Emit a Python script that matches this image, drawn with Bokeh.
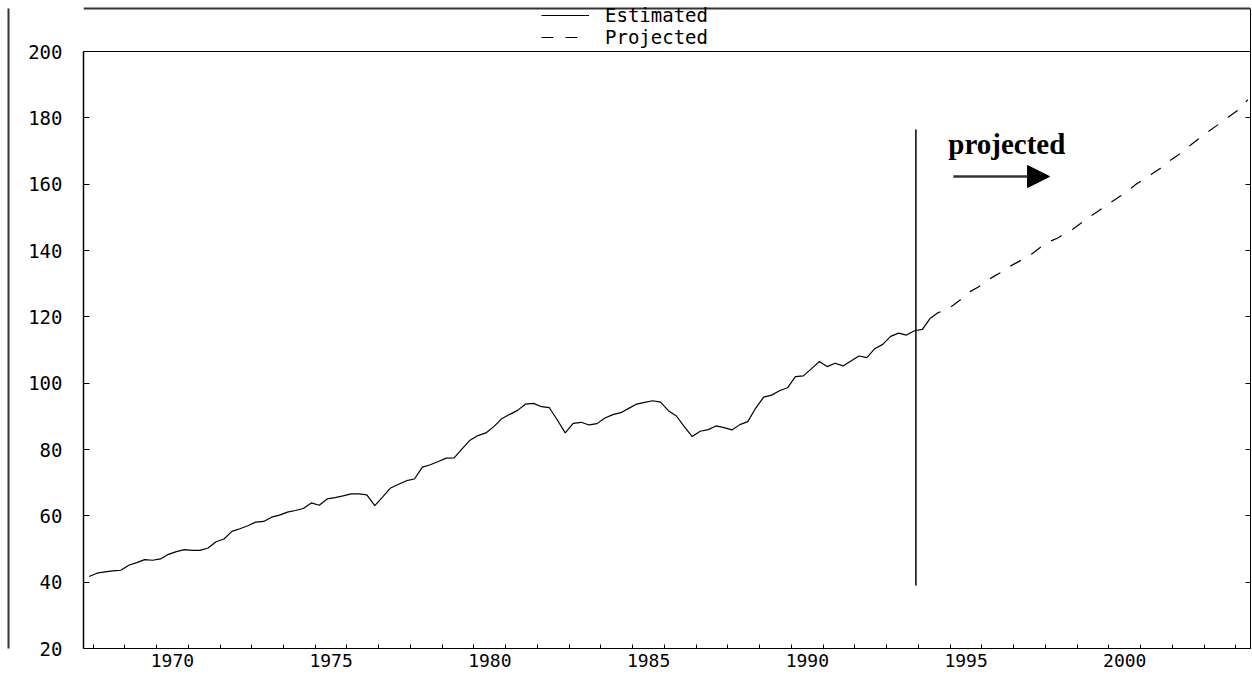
from bokeh.plotting import figure
from bokeh.models import (Range1d, FixedTicker, LinearAxis, Legend, LegendItem,
                          Arrow, NormalHead, Span)
from bokeh.core.properties import value
from bokeh.embed import file_html
from bokeh.resources import INLINE

# ---------------- data ----------------
est_start = 1967.875          # first quarter (mid-quarter position)
quarter = 0.25
est_values = [
    41.7, 42.7, 43.1, 43.4, 43.6, 45.1, 45.9, 46.8, 46.6, 47.0,
    48.4, 49.2, 49.8, 49.6, 49.6, 50.3, 52.2, 53.0, 55.3, 56.1,
    57.0, 58.1, 58.3, 59.6, 60.2, 61.1, 61.6, 62.2, 63.9, 63.2,
    65.1, 65.5, 66.0, 66.6, 66.6, 66.3, 63.1, 65.7, 68.4, 69.5,
    70.6, 71.1, 74.7, 75.4, 76.4, 77.4, 77.5, 80.2, 82.8, 84.2,
    85.0, 86.9, 89.3, 90.6, 91.8, 93.7, 93.9, 92.9, 92.6, 88.9,
    85.0, 87.9, 88.2, 87.4, 87.8, 89.5, 90.5, 91.1, 92.4, 93.7,
    94.2, 94.7, 94.3, 91.7, 90.1, 86.9, 83.9, 85.5, 86.0, 87.1,
    86.6, 85.9, 87.5, 88.4, 92.5, 95.8, 96.4, 97.7, 98.6, 102.0,
    102.2, 104.3, 106.5, 105.0, 106.0, 105.2, 106.7, 108.2, 107.7, 110.4,
    111.7, 114.1, 115.1, 114.5, 115.8, 116.2, 119.6,
]
proj_start = 1994.375
proj_values = [
    119.6, 121.3, 122.0, 123.7, 125.5, 127.6, 128.9, 130.7, 132.2, 133.5,
    135.2, 136.5, 137.8, 139.3, 141.2, 142.7, 143.7, 145.2, 146.5, 148.3,
    150.1, 151.6, 153.3, 154.9, 156.5, 158.2, 160.1, 161.6, 163.2, 164.8,
    166.8, 168.4, 170.2, 172.2, 174.0, 175.8, 177.5, 179.2, 181.0, 182.7,
    185.5,
]
legend_labels = ["Estimated", "Projected"]
y_ticks = [20, 40, 60, 80, 100, 120, 140, 160, 180, 200]
x_label_years = [1970, 1975, 1980, 1985, 1990, 1995, 2000]
x_minor_years = list(range(1968, 2005))
divider_year = 1993.92
divider_span = [39, 176.5]
note_text = "projected"
note_pos = [1994.94, 172.0]
arrow_span = [1995.10, 1998.13, 162.3]

est_years = [est_start + quarter * i for i in range(len(est_values))]
proj_years = [proj_start + quarter * i for i in range(len(proj_values))]

TICK_FONT = "DejaVu Sans Mono"
W, H = 1252, 677
X0, X1 = 1967.70, 2004.46
Y0, Y1 = 20, 200
YLINE = 212.965    # level of the outer page line above the plot
YTOP = 215.377     # top of the drawing area (headroom holds the legend)

p = figure(width=W, height=H, output_backend="svg", toolbar_location=None,
           x_range=Range1d(X0, X1), y_range=Range1d(Y0, YTOP),
           x_axis_type=None, y_axis_type=None,
           min_border_left=83, min_border_top=0, min_border_right=2,
           min_border_bottom=29)
p.outline_line_color = None
p.background_fill_color = "white"
p.border_fill_color = "white"

# bottom axis: year boundaries as small inner ticks, labels centred in the year
xax = LinearAxis(
    ticker=FixedTicker(ticks=[y + 0.5 for y in x_label_years], minor_ticks=x_minor_years),
    major_label_overrides={y + 0.5: str(y) for y in x_label_years},
    major_tick_line_color=None, major_tick_in=0, major_tick_out=0,
    minor_tick_in=4, minor_tick_out=0, minor_tick_line_color="black",
    axis_line_color="black", axis_line_width=1.2, major_label_standoff=5,
    major_label_text_font=TICK_FONT, major_label_text_font_size="18px",
    major_label_text_color="black")
p.add_layout(xax, "below")

yax = LinearAxis(
    ticker=FixedTicker(ticks=y_ticks), bounds=(Y0, Y1),
    major_tick_in=6, major_tick_out=0, minor_tick_line_color=None,
    axis_line_color="black", axis_line_width=1.5, major_tick_line_color="black",
    major_label_standoff=21,
    major_label_text_font=TICK_FONT, major_label_text_font_size="19px",
    major_label_text_color="black")
p.add_layout(yax, "left")

# empty spacer axis (invisible outward ticks give it width), then the outer page line
spacer = LinearAxis(
    ticker=FixedTicker(ticks=y_ticks),
    major_label_overrides={t: "" for t in y_ticks},
    axis_line_color=None, major_tick_line_color=None, minor_tick_line_color=None,
    major_tick_in=0, major_tick_out=17, major_label_standoff=0)
p.add_layout(spacer, "left")

outer = LinearAxis(
    ticker=FixedTicker(ticks=[]), bounds=(Y0, YLINE),
    axis_line_color="#333333", axis_line_width=2,
    major_tick_line_color=None, minor_tick_line_color=None,
    major_tick_in=0, major_tick_out=0, major_label_standoff=0)
p.add_layout(outer, "left")

rax = LinearAxis(
    ticker=FixedTicker(ticks=y_ticks), bounds=(Y0, YLINE),
    major_label_overrides={t: "" for t in y_ticks},
    major_tick_in=5, major_tick_out=0, minor_tick_line_color=None,
    axis_line_color="black", major_tick_line_color="black",
    major_label_standoff=0)
p.add_layout(rax, "right")

# plot top edge at 200 and the outer page line above it
p.add_layout(Span(location=Y1, dimension="width", line_color="black", line_width=1.2))
p.add_layout(Span(location=YLINE, dimension="width", line_color="#333333", line_width=2))

r_est = p.line(est_years, est_values, line_color="black", line_width=1.2)
r_proj = p.line(proj_years, proj_values, line_color="black", line_width=1.2,
                line_dash="12 12")

p.segment(x0=[divider_year], y0=[divider_span[0]], x1=[divider_year],
          y1=[divider_span[1]], line_color="black", line_width=1.5)

p.text(x=[note_pos[0]], y=[note_pos[1]], text=[note_text],
       text_font=value("Liberation Serif"), text_font_style="bold",
       text_font_size="29px", text_baseline="alphabetic", text_color="black")

p.add_layout(Arrow(end=NormalHead(size=22, fill_color="black", line_color="black"),
                   x_start=arrow_span[0], y_start=arrow_span[2],
                   x_end=arrow_span[1], y_end=arrow_span[2],
                   line_width=2.5, line_color="#333333"))

legend = Legend(
    items=[LegendItem(label=legend_labels[0], renderers=[r_est]),
           LegendItem(label=legend_labels[1], renderers=[r_proj])],
    location=(458, 600), orientation="vertical",
    border_line_color=None, background_fill_alpha=0,
    padding=0, margin=0, spacing=0,
    label_height=20, glyph_height=20, glyph_width=48, label_standoff=16,
    label_text_font=TICK_FONT, label_text_font_size="19px",
    label_text_color="black")
p.add_layout(legend)

open("out.html", "w").write(file_html(p, INLINE))
